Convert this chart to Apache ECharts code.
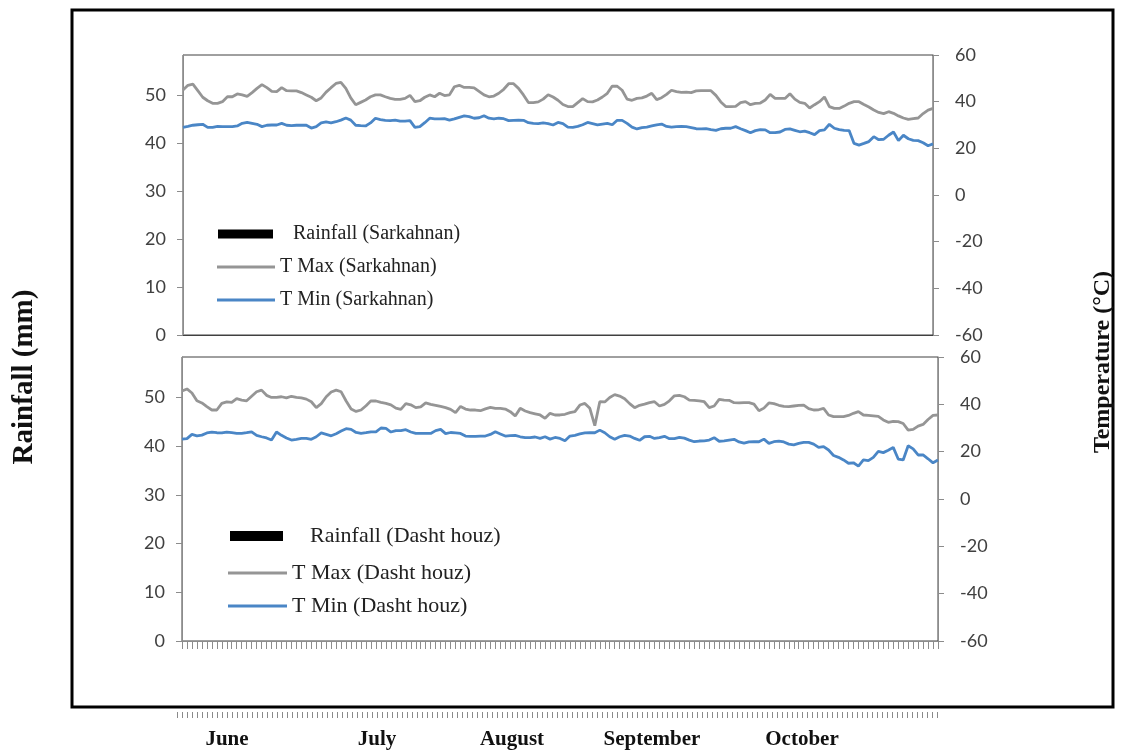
<!DOCTYPE html>
<html><head><meta charset="utf-8">
<script src="https://cdn.jsdelivr.net/npm/echarts@6/dist/echarts.min.js"></script>
<style>html,body{margin:0;padding:0;background:#fff}#c{width:1123px;height:751px}</style>
</head><body><div id="c"></div>
<script>
// ---- categories ----
const monthNames = ['June', 'July', 'August', 'September', 'October'];
const monthLengths = [30, 31, 31, 30, 31];
const monthLabelDay = [10, 40, 67, 95, 125];   // category index where each month name is written
const days = [];
monthNames.forEach((m, k) => { for (let d = 1; d <= monthLengths[k]; d++) days.push(m + ' ' + d); });

// ---- axis ticks ----
const rainTickValues = [0, 10, 20, 30, 40, 50];
const rainMax = 58.3;
const tempTickValues = [-60, -40, -20, 0, 20, 40, 60];

// ---- series values ----
const rainSark = [
 0,0,0,0,0,0,0,0,0,0, 0,0,0,0,0,0,0,0,0,0, 0,0,0,0,0,0,0,0,0,0,
 0,0,0,0,0,0,0,0,0,0, 0,0,0,0,0,0,0,0,0,0, 0,0,0,0,0,0,0,0,0,0,
 0,0,0,0,0,0,0,0,0,0, 0,0,0,0,0,0,0,0,0,0, 0,0,0,0,0,0,0,0,0,0,
 0,0,0,0,0,0,0,0,0,0, 0,0,0,0,0,0,0,0,0,0, 0,0,0,0,0,0,0,0,0,0,
 0,0,0,0,0,0,0,0,0,0, 0,0,0,0,0,0,0,0,0,0, 0,0,0,0,0,0,0,0,0,0,
 0,0,0];
const tmaxSark = [
 45.0,47.0,47.5,44.7,41.9,40.4,39.3,39.3,40.0,42.1,
 42.1,43.3,42.9,42.3,43.9,45.7,47.3,46.0,44.4,44.3,
 46.0,44.7,44.6,44.6,43.9,42.9,41.9,40.4,41.6,44.1,
 46.0,47.8,48.3,45.7,41.6,38.7,39.7,40.7,42.1,42.9,
 42.9,42.1,41.4,41.0,41.0,41.4,42.7,40.0,40.4,41.9,
 42.9,42.1,43.6,42.6,42.9,46.4,47.0,46.1,46.1,45.9,
 44.4,42.9,42.1,42.4,43.6,45.3,47.7,47.7,45.7,42.9,
 39.6,39.6,39.9,41.1,43.0,42.0,40.6,38.8,37.9,37.9,
 39.6,41.3,40.0,39.9,40.7,42.0,43.6,46.7,46.6,44.9,
 41.1,40.6,41.4,41.6,42.4,43.6,40.9,41.7,43.1,44.9,
 44.3,44.0,44.1,43.9,44.6,44.7,44.7,44.7,42.7,39.9,
 37.9,37.9,38.0,39.6,40.0,38.7,39.3,39.4,40.7,43.1,
 41.4,41.4,41.4,43.4,41.1,39.7,39.3,37.3,38.7,40.0,
 42.0,37.9,37.1,37.1,38.1,39.3,40.0,40.0,38.8,37.7,
 36.4,35.4,34.9,35.7,35.0,33.9,33.0,32.4,32.7,33.0,
 34.9,36.4,37.1];
const tminSark = [
 29.0,29.4,29.9,30.1,30.3,29.0,29.0,29.4,29.3,29.3,
 29.3,29.6,30.7,31.1,30.7,30.3,29.3,29.9,30.0,30.0,
 30.7,29.9,29.7,29.9,29.9,29.9,28.7,29.3,30.9,31.3,
 30.9,31.4,32.1,33.0,32.1,29.9,29.7,29.6,30.9,32.9,
 32.3,32.0,31.9,32.1,31.7,31.7,31.9,29.0,29.3,31.0,
 32.9,32.6,32.6,32.7,32.1,32.6,33.3,33.9,33.6,32.9,
 33.1,34.0,32.9,32.6,32.9,32.7,31.9,32.0,32.1,32.0,
 31.0,30.7,30.6,30.9,30.6,30.0,31.1,30.6,29.1,29.0,
 29.4,30.1,31.1,30.6,30.1,30.4,30.7,30.1,32.0,32.0,
 30.7,29.1,28.3,28.9,29.1,29.6,30.1,30.4,29.4,29.1,
 29.3,29.4,29.3,28.9,28.4,28.3,28.4,28.0,27.7,28.4,
 28.6,28.6,29.3,28.4,27.6,26.7,27.6,28.0,27.9,26.7,
 26.7,27.0,28.1,28.3,27.7,27.1,27.4,26.7,25.9,27.6,
 27.9,30.3,28.6,28.0,27.7,27.6,22.1,21.4,22.1,22.9,
 25.0,23.7,23.9,25.6,27.0,23.3,25.6,24.1,23.4,23.3,
 22.4,21.1,21.9];
const rainDasht = [
 0,0,0,0,0,0,0,0,0,0, 0,0,0,0,0,0,0,0,0,0, 0,0,0,0,0,0,0,0,0,0,
 0,0,0,0,0,0,0,0,0,0, 0,0,0,0,0,0,0,0,0,0, 0,0,0,0,0,0,0,0,0,0,
 0,0,0,0,0,0,0,0,0,0, 0,0,0,0,0,0,0,0,0,0, 0,0,0,0,0,0,0,0,0,0,
 0,0,0,0,0,0,0,0,0,0, 0,0,0,0,0,0,0,0,0,0, 0,0,0,0,0,0,0,0,0,0,
 0,0,0,0,0,0,0,0,0,0, 0,0,0,0,0,0,0,0,0,0, 0,0,0,0,0,0,0,0,0,0,
 0,0,0];
const tmaxDasht = [
 45.6,46.5,44.8,41.5,40.6,39.0,37.6,37.6,40.4,41.0,
 40.8,42.4,41.8,41.5,43.4,45.3,46.0,43.8,42.9,42.9,
 43.2,42.7,43.4,42.9,42.7,42.2,41.1,38.6,40.3,43.2,
 45.2,46.0,45.3,41.4,38.0,37.0,37.6,39.4,41.5,41.4,
 40.8,40.4,39.8,38.4,37.9,40.3,39.8,38.6,38.9,40.6,
 40.0,39.6,39.1,38.6,37.9,36.5,39.1,38.0,37.6,37.6,
 37.3,38.1,38.7,38.3,38.3,38.0,36.9,35.1,38.3,37.2,
 36.5,36.0,35.5,34.1,36.2,35.5,35.5,35.8,36.5,36.9,
 39.7,40.4,38.3,31.0,41.1,41.0,42.9,44.1,43.5,42.4,
 40.3,38.6,39.6,40.1,40.7,41.1,39.3,40.0,41.5,43.6,
 43.8,43.2,41.8,41.7,41.5,41.1,38.6,39.3,42.1,41.8,
 41.7,40.7,40.6,40.7,40.7,40.1,37.3,38.4,40.6,40.3,
 39.6,39.1,39.0,39.3,39.6,39.7,38.2,37.6,37.7,38.3,
 35.5,34.8,34.8,34.8,35.3,36.2,36.9,35.5,35.3,35.1,
 34.9,33.4,32.4,32.8,32.7,31.9,29.1,29.4,30.8,31.5,
 33.6,35.3,35.5];
const tminDasht = [
 25.3,25.5,27.3,26.7,27.0,27.9,28.3,28.0,27.9,28.3,
 28.0,27.7,27.7,28.0,28.4,26.9,26.3,25.8,24.9,28.3,
 26.9,25.8,24.9,25.2,25.6,25.6,25.2,26.3,27.9,27.3,
 26.7,27.6,28.7,29.7,29.4,28.1,27.7,28.0,28.4,28.4,
 30.0,29.8,28.3,28.9,28.9,29.3,28.3,27.7,27.7,27.7,
 27.7,28.9,29.4,27.6,28.1,27.9,27.7,26.6,26.5,26.5,
 26.6,26.6,27.3,28.4,27.5,26.6,26.8,26.9,26.3,25.9,
 25.9,26.2,25.6,26.3,25.3,26.0,25.6,24.6,26.6,26.9,
 27.5,27.9,28.0,28.0,29.1,28.0,26.3,25.2,26.3,26.9,
 26.6,25.6,24.8,26.3,26.5,25.6,25.9,26.5,25.5,25.5,
 26.0,25.7,24.9,24.2,24.5,24.6,24.9,25.9,24.4,24.6,
 24.9,25.2,24.1,23.6,24.1,24.2,24.2,25.3,23.5,24.2,
 24.5,24.1,23.2,22.9,23.5,23.9,23.9,23.2,21.8,22.1,
 20.7,18.4,17.6,16.5,15.1,15.3,13.9,16.5,16.2,17.6,
 20.1,19.6,20.6,21.8,16.9,16.5,22.5,21.2,18.6,18.6,
 17.0,15.3,16.5];

const stations = ['Sarkahnan', 'Dasht houz'];

// ---- styling ----
const GRAY = '#959595', BLUE = '#4a86c6', AXIS = '#8c8c8c', BORDER = '#404040';
const tickFont = { fontFamily: 'Lato', fontSize: 18, color: '#404040' };
const serif = '"Liberation Serif", "Times New Roman", serif';

function yLeft(grid) {
  return {
    type: 'value', gridIndex: grid, position: 'left',
    min: 0, max: rainMax,
    axisLine: { show: true, lineStyle: { color: AXIS } },
    axisTick: { show: true, length: 6, customValues: rainTickValues, lineStyle: { color: AXIS } },
    splitLine: { show: false },
    axisLabel: Object.assign({ margin: 17, customValues: rainTickValues }, tickFont)
  };
}
function yRight(grid) {
  return {
    type: 'value', gridIndex: grid, position: 'right',
    min: tempTickValues[0], max: tempTickValues[tempTickValues.length - 1], interval: 20,
    axisLine: { show: true, lineStyle: { color: AXIS } },
    axisTick: { show: true, length: 6, lineStyle: { color: AXIS } },
    splitLine: { show: false },
    axisLabel: Object.assign({ margin: 22 }, tickFont)
  };
}
function legendItem(name, left, cy, w, h, fs, prefix) {
  return {
    data: [{ name: name, icon: 'rect' }], left: left, top: cy - fs / 2, padding: 0,
    itemWidth: w, itemHeight: h, selectedMode: false, orient: 'vertical',
    formatter: prefix + '{name}',
    textStyle: { fontFamily: serif, fontSize: fs, color: '#222' }
  };
}

const option = {
  animation: false,
  backgroundColor: '#fff',
  grid: [
    { left: 183, top: 55, width: 750, height: 280, show: true, borderColor: BORDER, borderWidth: 1 },
    { left: 182, top: 357, width: 756, height: 284, show: true, borderColor: BORDER, borderWidth: 1 },
    { left: 177, top: 700, width: 760, height: 12 }
  ],
  xAxis: [
    { type: 'category', gridIndex: 0, data: days, boundaryGap: false,
      axisLine: { show: true, lineStyle: { color: BORDER } }, axisTick: { show: false }, axisLabel: { show: false } },
    { type: 'category', gridIndex: 1, data: days, boundaryGap: false,
      axisLine: { show: true, lineStyle: { color: AXIS } },
      axisTick: { show: true, interval: 0, length: 8, lineStyle: { color: AXIS } }, axisLabel: { show: false } },
    { type: 'category', gridIndex: 2, data: days, boundaryGap: false,
      axisLine: { show: false },
      axisTick: { show: true, interval: 0, length: 6, lineStyle: { color: '#8a8a8a' } },
      axisLabel: { show: true, interval: 0, margin: 17, fontFamily: serif, fontWeight: 'bold', fontSize: 21, color: '#111',
        formatter: (v, i) => { const k = monthLabelDay.indexOf(i); return k >= 0 ? monthNames[k] : ''; } } }
  ],
  yAxis: [ yLeft(0), yRight(0), yLeft(1), yRight(1), { type: 'value', gridIndex: 2, show: false } ],
  legend: [
    legendItem('Rainfall (' + stations[0] + ')', 218, 234, 55, 9, 20, '   '),
    legendItem('T Max (' + stations[0] + ')', 217, 267, 58, 3, 20, ''),
    legendItem('T Min (' + stations[0] + ')', 217, 300, 58, 3, 20, ''),
    legendItem('Rainfall (' + stations[1] + ')', 230, 536, 53, 10, 22, '    '),
    legendItem('T Max (' + stations[1] + ')', 228, 573, 59, 3, 22, ''),
    legendItem('T Min (' + stations[1] + ')', 228, 606, 59, 3, 22, '')
  ],
  series: [
    { name: 'Rainfall (' + stations[0] + ')', type: 'bar', xAxisIndex: 0, yAxisIndex: 0, data: rainSark, itemStyle: { color: '#000' }, color: '#000' },
    { name: 'T Max (' + stations[0] + ')', type: 'line', xAxisIndex: 0, yAxisIndex: 1, data: tmaxSark, showSymbol: false, symbol: 'none', color: GRAY, lineStyle: { color: GRAY, width: 2.8 } },
    { name: 'T Min (' + stations[0] + ')', type: 'line', xAxisIndex: 0, yAxisIndex: 1, data: tminSark, showSymbol: false, symbol: 'none', color: BLUE, lineStyle: { color: BLUE, width: 2.8 } },
    { name: 'Rainfall (' + stations[1] + ')', type: 'bar', xAxisIndex: 1, yAxisIndex: 2, data: rainDasht, itemStyle: { color: '#000' }, color: '#000' },
    { name: 'T Max (' + stations[1] + ')', type: 'line', xAxisIndex: 1, yAxisIndex: 3, data: tmaxDasht, showSymbol: false, symbol: 'none', color: GRAY, lineStyle: { color: GRAY, width: 2.8 } },
    { name: 'T Min (' + stations[1] + ')', type: 'line', xAxisIndex: 1, yAxisIndex: 3, data: tminDasht, showSymbol: false, symbol: 'none', color: BLUE, lineStyle: { color: BLUE, width: 2.8 } }
  ],
  graphic: [
    { type: 'rect', shape: { x: 72, y: 10, width: 1041, height: 697 }, style: { fill: 'none', stroke: '#000', lineWidth: 3 }, silent: true },
    { type: 'text', x: 25, y: 377, rotation: Math.PI / 2,
      style: { text: 'Rainfall (mm)', font: 'bold 29px ' + serif, fill: '#111', textAlign: 'center', textVerticalAlign: 'middle' } },
    { type: 'text', x: 1103, y: 362, rotation: Math.PI / 2,
      style: { text: 'Temperature (°C)', font: 'bold 24px ' + serif, fill: '#111', textAlign: 'center', textVerticalAlign: 'middle' } }
  ]
};
const chart = echarts.init(document.getElementById('c'), null, { renderer: 'canvas' });
chart.setOption(option);
</script></body></html>
